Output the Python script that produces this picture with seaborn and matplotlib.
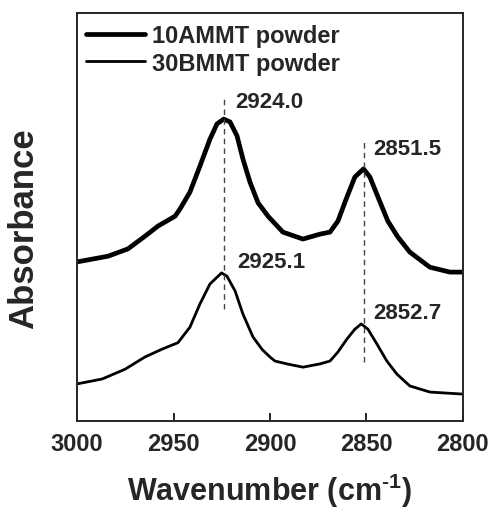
import numpy as np
import pandas as pd
import matplotlib
matplotlib.use("Agg")
import matplotlib.pyplot as plt
import seaborn as sns

# FTIR spectra (absorbance in arbitrary units, offset curves)
wn_10a = [3000.0, 2983.9, 2973.6, 2964.8, 2958.0, 2949.2, 2946.6, 2941.5, 2936.3, 2931.1,
          2927.5, 2924.0, 2920.7, 2917.1, 2914.0, 2910.4, 2906.2, 2901.0, 2893.3, 2882.9,
          2874.1, 2868.9, 2864.8, 2860.1, 2856.0, 2851.5, 2848.2, 2844.0, 2838.9, 2833.7,
          2827.5, 2817.1, 2806.7, 2800.0]
abs_10a = [0.390, 0.404, 0.422, 0.453, 0.478, 0.502, 0.520, 0.561, 0.625, 0.691,
           0.728, 0.740, 0.733, 0.699, 0.642, 0.586, 0.535, 0.502, 0.463, 0.446,
           0.458, 0.463, 0.490, 0.549, 0.598, 0.618, 0.598, 0.549, 0.490, 0.451,
           0.414, 0.377, 0.365, 0.365]

wn_30b = [3000.0, 2987.0, 2975.1, 2964.8, 2956.0, 2947.7, 2941.5, 2936.3, 2931.1, 2925.1,
          2922.3, 2918.1, 2914.0, 2908.8, 2904.0, 2900.0, 2897.4, 2891.2, 2882.9, 2874.1,
          2868.9, 2864.8, 2860.1, 2856.0, 2852.7, 2849.2, 2844.6, 2839.4, 2834.2, 2827.5,
          2817.1, 2800.0]
abs_30b = [0.091, 0.103, 0.127, 0.157, 0.176, 0.192, 0.230, 0.287, 0.336, 0.363,
           0.355, 0.319, 0.262, 0.206, 0.175, 0.157, 0.147, 0.140, 0.132, 0.140,
           0.147, 0.169, 0.201, 0.225, 0.238, 0.225, 0.189, 0.147, 0.115, 0.086,
           0.071, 0.066]

# peak markers: position, dashed line span, labels
peak_pos = [2924.0, 2851.5]
peak_line_top = [0.794, 0.686]
peak_line_bottom = [0.275, 0.145]
label_text = ["2924.0", "2851.5", "2925.1", "2852.7"]
label_x = [2918.1, 2846.6, 2917.1, 2846.6]
label_y = [0.782, 0.667, 0.390, 0.267]

df_a = pd.DataFrame({"Wavenumber": wn_10a, "Absorbance": abs_10a})
df_b = pd.DataFrame({"Wavenumber": wn_30b, "Absorbance": abs_30b})

sns.set_style("ticks")
plt.rcParams["font.family"] = ["Liberation Sans", "DejaVu Sans"]
plt.rcParams["font.weight"] = "bold"
plt.rcParams["mathtext.fontset"] = "custom"
plt.rcParams["mathtext.rm"] = "Liberation Sans:bold"
plt.rcParams["mathtext.bf"] = "Liberation Sans:bold"

fig = plt.figure(figsize=(4.94, 5.10), dpi=100)
ax = fig.add_axes([0.156, 0.1725, 0.781, 0.80])

sns.lineplot(data=df_a, x="Wavenumber", y="Absorbance", ax=ax, color="black",
             linewidth=3.4, sort=False, label="10AMMT powder", estimator=None)
sns.lineplot(data=df_b, x="Wavenumber", y="Absorbance", ax=ax, color="black",
             linewidth=2.0, sort=False, label="30BMMT powder", estimator=None)
for ln in ax.get_lines():
    ln.set_solid_joinstyle("round")
    ln.set_solid_capstyle("round")

# dashed guide lines at the peaks
for p, t, b in zip(peak_pos, peak_line_top, peak_line_bottom):
    ax.plot([p, p], [b, t], color="#444444", linewidth=1.0, linestyle=(0, (4, 3)))

for txt, xx, yy in zip(label_text, label_x, label_y):
    ax.text(xx, yy, txt, fontsize=16, fontweight="bold", ha="left", va="center")

ax.set_xlim(3000, 2800)
ax.set_ylim(0, 1)
ax.set_xticks([3000, 2950, 2900, 2850, 2800])
ax.set_yticks([])
ax.tick_params(axis="x", direction="in", length=6, width=1.4, labelsize=17, pad=8)
for lab in ax.get_xticklabels():
    lab.set_fontweight("bold")
for sp in ax.spines.values():
    sp.set_linewidth(1.4)
    sp.set_visible(True)

ax.set_xlabel("Wavenumber (cm$^{\\text{-1}}$)", fontsize=22, fontweight="bold", labelpad=11)
ax.set_ylabel("Absorbance", fontsize=25, fontweight="bold")
ax.yaxis.set_label_coords(-0.095, 0.475)

ax.legend(loc="upper left", bbox_to_anchor=(-0.014, 1.008), frameon=False,
          handlelength=2.5, handletextpad=0.3, labelspacing=0.2, borderaxespad=0.2,
          prop={"weight": "bold", "size": 17})

fig.savefig("out.png", dpi=100)
